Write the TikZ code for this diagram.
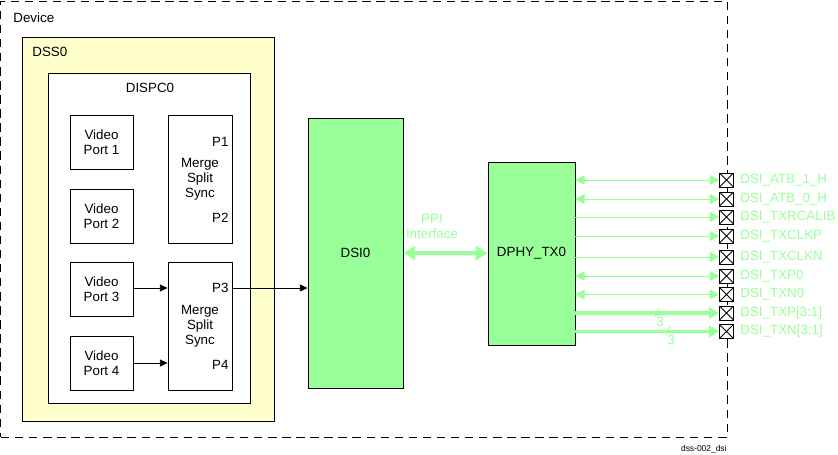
\documentclass[tikz,border=0pt]{standalone}
\usepackage{fontspec}
\setmainfont{Liberation Sans}
\usetikzlibrary{arrows.meta}
\definecolor{dsigreen}{RGB}{153,255,153}
\definecolor{dssyellow}{RGB}{255,255,204}
\tikzstyle{txt} = [inner sep=0pt, align=center]
\tikzstyle{block} = [draw=black, fill=white, inner sep=0pt, align=center]
\tikzstyle{greenblock} = [draw=black, fill=dsigreen, inner sep=0pt, align=center]
\tikzstyle{pinbox} = [draw=black, fill=white, minimum size=0.35cm, inner sep=0pt, path picture={\draw (path picture bounding box.north west) -- (path picture bounding box.south east) (path picture bounding box.south west) -- (path picture bounding box.north east);}]
\tikzstyle{pinname} = [anchor=west, text=dsigreen, inner sep=0pt]
\tikzstyle{arrow} = [-{Triangle[length=5.5pt,width=5pt]}]
\tikzstyle{garrow} = [dsigreen, -{Triangle[length=6.5pt,width=7pt]}]
\tikzstyle{gdarrow} = [dsigreen, {Triangle[length=6.5pt,width=7pt]}-{Triangle[length=6.5pt,width=7pt]}]
\tikzstyle{busarrow} = [dsigreen, line width=2.8pt, -{Triangle[length=7pt,width=8pt]}]
\tikzstyle{ppiarrow} = [dsigreen, line width=3pt, {Triangle[length=8.5pt,width=10pt]}-{Triangle[length=8.5pt,width=10pt]}]

\begin{document}
\begin{tikzpicture}[x=0.025cm, y=-0.025cm, line width=0.6pt, font=\fontsize{9.5}{10.7}\selectfont]
	\useasboundingbox (0,0) rectangle (838,455);
	%Device
	\node[draw, dash pattern=on 6pt off 4pt, minimum width=18.15cm, minimum height=10.9cm, inner sep=0pt] (device) at (364,219) {};
	\node[txt, anchor=west] (devicename) at (13,18) {Device};
	%DSS0
	\node[block, fill=dssyellow, minimum width=6.3cm, minimum height=9.6cm] (dss) at (148,229) {};
	\node[txt, anchor=west] (dssname) at (32,52) {DSS0};
	%DISPC0
	\node[block, minimum width=5.05cm, minimum height=8.25cm] (dispc) at (149,238) {};
	\node[txt] (dispcname) at (150,88) {DISPC0};
	%Video Ports
	\node[block, minimum width=1.575cm, minimum height=1.35cm] (vp1) at (101.5,142) {Video\\Port 1};
	\node[block, minimum width=1.575cm, minimum height=1.35cm] (vp2) at (101.5,216) {Video\\Port 2};
	\node[block, minimum width=1.575cm, minimum height=1.35cm] (vp3) at (101.5,289) {Video\\Port 3};
	\node[block, minimum width=1.575cm, minimum height=1.35cm] (vp4) at (101.5,363) {Video\\Port 4};
	%Merge Split Sync
	\node[block, minimum width=1.6cm, minimum height=3.2cm] (mss1) at (200,179) {Merge\\Split\\Sync};
	\node[txt, anchor=east] (p1) at (229,142) {P1};
	\node[txt, anchor=east] (p2) at (229,218) {P2};
	\node[block, minimum width=1.6cm, minimum height=3.2cm] (mss2) at (200,326) {Merge\\Split\\Sync};
	\node[txt, anchor=east] (p3) at (229,288) {P3};
	\node[txt, anchor=east] (p4) at (229,365) {P4};
	%DSI0
	\node[greenblock, minimum width=2.375cm, minimum height=6.75cm] (dsi) at (355.5,253) {DSI0};
	%DPHY_TX0
	\node[greenblock, minimum width=2.175cm, minimum height=4.575cm] (dphy) at (531.5,253.5) {DPHY\_TX0};
	%Video path
	\draw[arrow] (vp3.east |- p3.east) -- (p3.east -| mss2.west);
	\draw[arrow] (vp4.east) -- (vp4.east -| mss2.west);
	\draw[arrow] (p3.east -| mss2.east) -- (p3.east -| dsi.west);
	%PPI
	\draw[ppiarrow] (dsi.east) -- (dsi.east -| dphy.west);
	\node[txt, text=dsigreen] (ppi) at (432,226) {PPI\\Interface};
	%Pins
	\node[pinbox] (atb1) at (726.5,180) {};
	\node[pinname] (atb1name) at (740,180) {DSI\_ATB\_1\_H};
	\draw[gdarrow] (atb1.west -| dphy.east) -- (atb1.west);
	\node[pinbox] (atb0) at (726.5,199) {};
	\node[pinname] (atb0name) at (740,199) {DSI\_ATB\_0\_H};
	\draw[gdarrow] (atb0.west -| dphy.east) -- (atb0.west);
	\node[pinbox] (rcalib) at (726.5,217) {};
	\node[pinname] (rcalibname) at (740,217) {DSI\_TXRCALIB};
	\draw[garrow] (rcalib.west -| dphy.east) -- (rcalib.west);
	\node[pinbox] (clkp) at (726.5,236) {};
	\node[pinname] (clkpname) at (740,236) {DSI\_TXCLKP};
	\draw[garrow] (clkp.west -| dphy.east) -- (clkp.west);
	\node[pinbox] (clkn) at (726.5,257) {};
	\node[pinname] (clknname) at (740,257) {DSI\_TXCLKN};
	\draw[garrow] (clkn.west -| dphy.east) -- (clkn.west);
	\node[pinbox] (txp0) at (726.5,276) {};
	\node[pinname] (txp0name) at (740,276) {DSI\_TXP0};
	\draw[gdarrow] (txp0.west -| dphy.east) -- (txp0.west);
	\node[pinbox] (txn0) at (726.5,294.5) {};
	\node[pinname] (txn0name) at (740,294.5) {DSI\_TXN0};
	\draw[gdarrow] (txn0.west -| dphy.east) -- (txn0.west);
	\node[pinbox] (txp) at (726.5,313) {};
	\node[pinname] (txpname) at (740,313) {DSI\_TXP[3:1]};
	\draw[busarrow] (txp.west -| dphy.east) -- (txp.west);
	\draw[dsigreen] (655,317) -- (659,308);
	\node[txt, text=dsigreen] (txpwidth) at (660,322) {3};
	\node[pinbox] (txn) at (726.5,331.5) {};
	\node[pinname] (txnname) at (740,331.5) {DSI\_TXN[3:1]};
	\draw[busarrow] (txn.west -| dphy.east) -- (txn.west);
	\draw[dsigreen] (666,335) -- (670,326);
	\node[txt, text=dsigreen] (txnwidth) at (671,340) {3};
	%Figure id
	\node[txt, anchor=east, font=\fontsize{6}{7}\selectfont] (figid) at (727,449) {dss-002\_dsi};
\end{tikzpicture}
\end{document}
